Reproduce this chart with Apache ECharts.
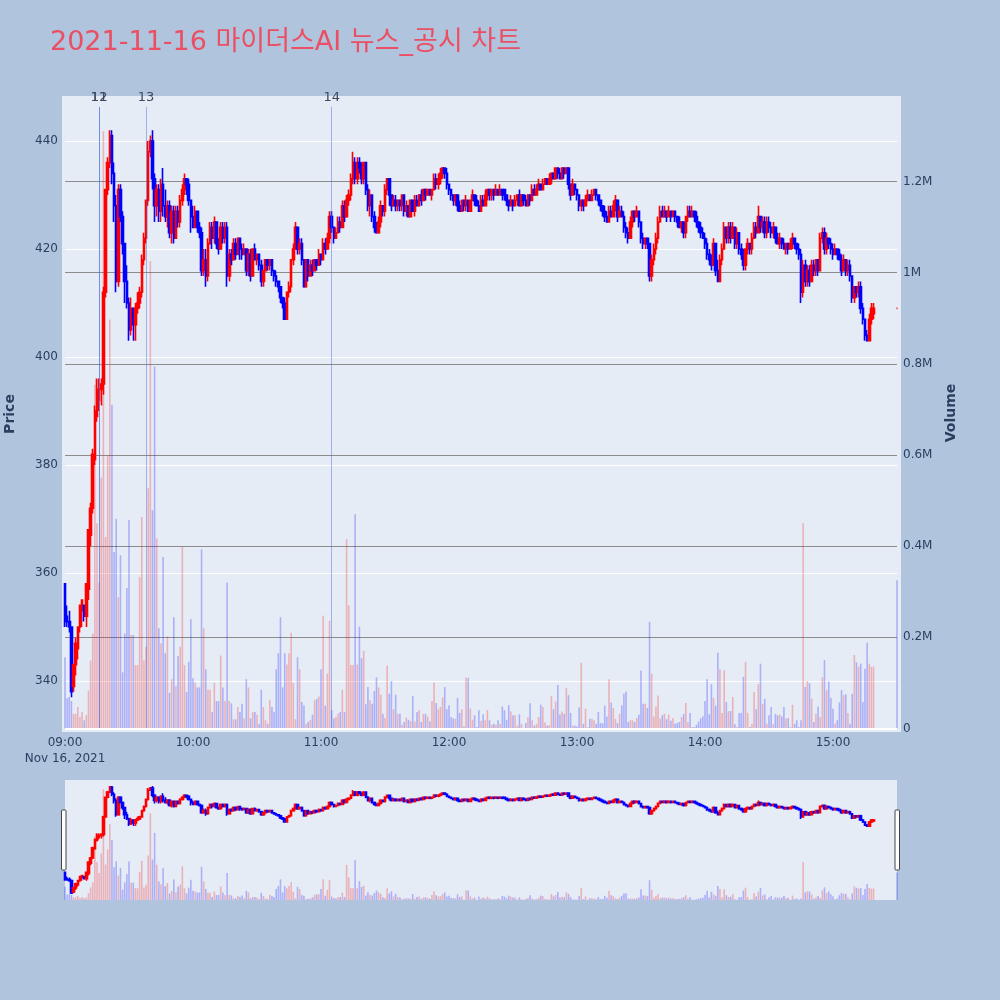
<!DOCTYPE html>
<html><head><meta charset="utf-8">
<script src="https://cdn.jsdelivr.net/npm/echarts@6/dist/echarts.min.js"></script>
<style>html,body{margin:0;padding:0;background:#b0c4de;}#c{width:1000px;height:1000px;}</style>
</head><body><div id="c"></div>
<script>
// [open, close, low, high] per minute from 09:00 (index 0) to 15:19 (index 379)
const ohlc = [
[358,351,350,358],[352,351,350,354],[351,350,349,353],[350,338,337,350],[339,343,338,343],[343,347,341,348],[346,350,344,350],[350,354,349,354],[353,355,350,355],[354,352,351,354],
[352,358,350,358],[357,368,355,368],[367,372,365,373],[372,382,371,383],[381,390,380,391],[389,394,388,396],[392,394,390,396],[394,395,391,396],[395,412,393,413],[412,431,411,431],
[431,436,430,437],[436,441,435,442],[441,434,432,442],[434,428,425,436],[428,414,412,430],[414,431,413,432],[431,426,425,432],[426,421,419,427],[421,414,410,421],[414,410,409,417],
[410,405,403,411],[405,409,404,411],[409,406,403,409],[406,409,403,410],[409,410,408,412],[410,412,409,413],[412,418,411,419],[418,422,417,423],[422,429,421,429],[429,438,428,440],
[438,440,437,441],[440,433,431,442],[433,428,425,434],[428,431,426,432],[431,427,425,432],[427,432,425,433],[432,428,426,435],[428,426,425,431],[426,428,424,429],[428,423,422,429],
[423,427,421,428],[427,422,421,428],[422,427,422,428],[427,425,424,428],[425,429,424,430],[429,431,428,432],[431,433,430,434],[433,432,430,433],[432,429,428,433],[429,426,423,429],
[426,424,424,428],[424,427,424,428],[427,424,423,427],[424,423,422,425],[423,416,415,424],[416,418,415,420],[418,415,413,420],[415,421,414,422],[421,424,421,425],[424,422,420,425],
[422,425,421,426],[425,421,420,425],[421,420,419,422],[420,424,420,425],[424,422,421,425],[422,424,421,425],[424,415,413,425],[415,419,414,420],[419,418,417,420],[418,421,418,422],
[421,419,418,422],[419,422,419,422],[422,420,418,422],[420,419,418,421],[419,420,419,421],[420,416,415,420],[416,419,415,420],[419,415,414,420],[415,420,415,420],[420,418,418,421],
[418,419,417,419],[419,417,416,419],[417,414,413,418],[414,416,413,416],[416,418,416,418],[418,417,416,418],[417,418,416,418],[418,416,415,418],[416,415,414,416],[415,414,413,416],
[414,413,412,414],[413,411,410,413],[411,410,409,411],[410,407,407,411],[407,412,407,412],[412,413,411,414],[413,418,412,418],[418,420,417,421],[420,424,420,425],[424,420,419,424],
[420,421,419,422],[421,418,417,422],[418,413,413,418],[413,418,413,418],[418,415,414,418],[415,417,415,418],[417,416,415,418],[416,418,416,418],[418,417,416,418],[417,419,417,420],
[419,418,417,419],[418,421,418,422],[421,420,419,422],[420,422,420,423],[422,426,421,427],[426,424,423,427],[424,422,421,424],[422,423,422,424],[423,425,423,426],[425,424,423,426],
[424,428,424,429],[428,426,425,429],[426,429,426,430],[429,430,428,431],[430,433,429,434],[433,436,432,438],[436,433,432,437],[433,436,432,437],[436,435,434,437],[435,433,432,436],
[433,436,432,436],[436,431,430,436],[431,428,427,432],[428,430,426,431],[430,426,425,430],[426,424,423,427],[424,423,423,425],[423,425,423,426],[425,428,424,429],[428,427,426,428],
[427,431,426,432],[431,433,430,433],[433,430,428,433],[430,428,427,430],[428,429,428,430],[429,428,427,430],[428,429,427,429],[429,428,427,429],[428,430,427,430],[430,427,426,430],
[427,428,426,429],[428,426,426,428],[426,429,426,429],[429,427,427,429],[427,429,426,430],[429,428,428,430],[428,430,428,430],[430,429,428,431],[429,431,429,431],[431,430,429,431],
[430,431,430,431],[431,430,430,431],[430,431,429,431],[431,433,431,434],[433,432,431,434],[432,433,431,434],[433,434,432,435],[434,435,433,435],[435,434,433,435],[434,432,431,435],
[432,431,430,432],[431,430,429,431],[430,429,428,430],[429,430,428,430],[430,428,427,430],[428,427,427,429],[427,429,427,429],[429,428,427,429],[428,429,427,430],[429,427,427,429],
[427,429,427,429],[429,430,429,431],[430,429,428,430],[429,428,428,430],[428,427,427,429],[427,429,427,430],[429,428,428,430],[428,430,428,431],[430,431,429,431],[431,430,429,431],
[430,431,429,431],[431,430,429,431],[430,431,430,432],[431,430,430,431],[430,431,430,432],[431,430,429,431],[431,430,429,431],[430,429,428,430],[429,428,427,429],[428,429,428,430],
[429,428,427,429],[428,429,428,430],[429,430,428,430],[430,428,428,431],[428,430,428,430],[430,429,428,430],[429,428,428,430],[428,430,428,430],[430,429,428,430],[429,431,429,432],
[431,430,430,432],[430,431,430,432],[431,432,431,433],[432,431,431,432],[431,432,431,433],[432,433,432,433],[433,432,432,433],[432,433,432,434],[433,434,432,434],[434,433,433,434],
[433,435,433,435],[435,434,433,435],[434,433,433,435],[433,435,433,435],[435,434,433,435],[434,435,434,435],[435,432,431,435],[432,430,429,432],[430,432,430,433],[432,431,430,432],
[431,430,429,431],[430,428,427,430],[428,429,427,429],[429,428,427,429],[428,429,428,430],[429,430,429,431],[430,429,429,430],[429,430,429,431],[430,431,430,431],[431,430,429,431],
[430,429,428,430],[429,428,427,429],[428,427,426,428],[427,426,425,428],[426,425,425,427],[425,427,425,428],[427,426,426,428],[426,428,426,429],[428,429,427,430],[429,426,425,429],
[426,427,426,428],[427,426,426,428],[426,424,423,427],[424,423,422,425],[423,422,421,424],[422,425,422,426],[425,427,424,427],[427,426,425,427],[426,427,426,428],[427,425,424,427],
[425,422,421,425],[422,421,420,423],[421,422,420,422],[422,421,420,422],[421,415,414,421],[415,418,414,419],[418,420,417,421],[420,422,419,423],[422,425,421,426],[425,427,425,428],
[427,426,426,428],[426,427,426,428],[427,426,425,427],[426,427,426,428],[427,426,425,427],[426,427,426,427],[427,426,425,427],[426,425,424,426],[425,424,424,426],[424,425,423,425],
[425,423,422,425],[423,426,422,426],[426,427,425,428],[427,426,426,428],[426,427,426,428],[427,426,425,427],[426,425,424,427],[425,424,423,425],[424,423,422,425],[423,422,422,424],
[422,421,420,423],[421,419,418,422],[419,418,417,420],[418,417,416,419],[417,421,417,422],[421,416,415,421],[416,414,414,418],[414,418,414,419],[418,420,417,421],[420,424,420,425],
[424,422,421,424],[422,424,421,425],[424,422,421,425],[422,424,422,425],[424,421,420,424],[421,423,420,424],[423,420,419,423],[420,419,418,421],[419,417,416,420],[417,420,416,420],
[420,421,419,422],[421,420,419,421],[420,422,419,423],[422,424,422,425],[424,423,422,425],[423,426,423,428],[426,424,423,426],[424,425,423,426],[425,423,422,426],[423,425,422,426],
[425,424,423,426],[424,423,422,425],[423,424,422,425],[424,422,421,424],[422,421,421,423],[421,422,420,423],[422,421,420,422],[421,420,420,422],[420,421,419,421],[421,420,419,421],
[420,421,420,422],[421,422,420,423],[422,421,420,422],[421,420,419,421],[420,419,418,421],[419,412,410,420],[412,417,411,418],[417,414,413,418],[414,416,413,417],[416,414,413,417],
[414,417,414,418],[417,416,415,418],[416,418,415,418],[418,416,415,418],[416,422,416,423],[422,423,421,424],[423,420,419,424],[420,422,419,423],[422,421,420,422],[421,420,419,422],
[420,419,418,421],[419,420,419,421],[420,419,418,420],[419,418,418,420],[418,416,415,419],[416,418,416,419],[418,416,415,418],[416,417,415,418],[417,415,414,418],[415,411,410,415],
[411,413,410,413],[413,412,411,413],[412,413,411,414],[413,409,408,414],[409,407,406,410],[407,404,403,407],[404,403,403,405],[403,407,403,408],[407,409,406,410],[408,409,407,410]
];
// volume (thousand shares) per minute, 09:00 .. 15:19
const volumesK = [
156,66,69,60,32,32,47,25,36,18, 29,83,149,208,754,450,320,550,1310,420,
600,897,710,387,460,288,380,123,208,308, 457,205,205,139,139,332,464,149,179,527,
1025,479,794,417,220,187,376,165,202,78, 108,244,93,159,179,398,139,80,146,240,
110,100,90,90,393,220,130,85,85,36, 100,60,60,160,90,60,320,60,55,20,
20,47,36,54,22,108,90,22,36,36, 30,10,85,47,18,10,62,47,36,130,
165,244,90,165,140,165,210,100,20,156, 130,58,50,10,14,18,30,62,65,70,
130,247,50,120,236,40,22,25,32,36, 85,36,415,270,139,139,470,140,
223,154,170,53,91,62,54,82,112,90, 74,32,23,138,76,104,42,74,32,32, 8,14,24,19,16,71,15,36,40,14, 32,
32,26,15,60,100,56,42,47,68,91, 42,50,25,22,21,67,34,42,4,111, 111,44,19,29,3,40,17,31,18,40,
18,8,10,8,18,10,48,40,19,51, 37,29,29,6,31,10,1,12,25,55, 18,6,10,25,52,47,13,6,7,
71,42,59,95,31,37,32,89,73,34, 6,6,4,46,144,10,43,3,21,21, 18,10,36,12,11,50,26,108,57,45, 21,12,32,
50,76,81,14,18,18,14,23,30,127, 54,54,45,234,120,26,48,72,22,29, 32,20,30,17,23,10,
12,14,25,32,56,14,34,3,3,8, 15,22,26,60,108,31,97,67,50,166, 130,34,127,58,38,38,69,9,3,34,
34,113,146,34,3,10,80,42,97,142, 54,65,10,29,47,9,32,29,30,26, 47,22,23,3,52,10,18,3,18,450,
91,104,99,65,14,32,48,25,112,150, 84,103,67,43,11,18,57,84,73,75, 34,10,76,161,145,135,142,58,131,188,
142,135,136
];
// closing auction 15:30
const auctionTime = '15:30';
const auctionOhlc = [409,409,409,409];
const auctionVolumeK = 325;
// news / disclosure markers
const newsEvents = [
  {time:'09:16', label:'11'},
  {time:'09:16', label:'12'},
  {time:'09:38', label:'13'},
  {time:'11:05', label:'14'}
];
const titleText = '2021-11-16 마이더스AI 뉴스_공시 차트';

// category axis: every minute 09:00 .. 15:30
const times = [];
for (let m = 0; m <= 390; m++) {
  const h = 9 + Math.floor(m / 60), mm = m % 60;
  times.push(String(h).padStart(2,'0') + ':' + String(mm).padStart(2,'0'));
}

const UP = '#ff0000', DOWN = '#0000ff';
const VUP = 'rgba(255,0,0,0.25)', VDOWN = 'rgba(0,0,255,0.25)';
const EMPTY4 = ['-','-','-','-'];

const candleData = times.map((t, i) => {
  if (i < ohlc.length) return ohlc[i];
  if (t === auctionTime) return {value: auctionOhlc, itemStyle:{color:UP, color0:UP, borderColor:UP, borderColor0:UP}};
  return EMPTY4;
});
const volData = times.map((t, i) => {
  if (i < volumesK.length) {
    const up = ohlc[i][1] > ohlc[i][0];
    return {value: volumesK[i], itemStyle:{color: up ? VUP : VDOWN}};
  }
  if (t === auctionTime) return {value: auctionVolumeK, itemStyle:{color: VDOWN}};
  return '-';
});

const FONT = '"DejaVu Sans", Verdana, sans-serif';
const TXT = '#2a3f5f';

const markLineData = newsEvents.map(e => [
  {name: e.label, coord: [e.time, 331.3]},
  {coord: [e.time, 446.3]}
]);

const candleStyle = {color:UP, color0:DOWN, borderColor:UP, borderColor0:DOWN, borderWidth:1.6};

const chart = echarts.init(document.getElementById('c'), null, {renderer:'canvas'});
chart.setOption({
  animation: false,
  backgroundColor: '#b0c4de',
  title: {
    text: titleText, left: 45, top: 24,
    textStyle: {fontSize: 27, fontWeight: 'normal', color: '#eb4f64',
      fontFamily: '"DejaVu Sans", "Noto Sans CJK KR", sans-serif'}
  },
  graphic: {elements: [
    {type:'rect', z:-10, silent:true, shape:{x:62, y:96, width:839, height:636}, style:{fill:'#e5ecf6'}},
    {type:'rect', z:-10, silent:true, shape:{x:65, y:780, width:832, height:120}, style:{fill:'#e5ecf6'}},
    {type:'rect', z:100, silent:true, shape:{x:61.5, y:810, width:4.5, height:60, r:1}, style:{fill:'#ffffff', stroke:'#444', lineWidth:1}},
    {type:'rect', z:100, silent:true, shape:{x:895, y:810, width:4.5, height:60, r:1}, style:{fill:'#ffffff', stroke:'#444', lineWidth:1}},
    {type:'text', x:10, y:414, rotation:Math.PI/2, silent:true,
      style:{text:'Price', font:'bold 14px "DejaVu Sans"', fill:TXT, align:'center', verticalAlign:'middle'}},
    {type:'text', x:951, y:413, rotation:Math.PI/2, silent:true,
      style:{text:'Volume', font:'bold 14px "DejaVu Sans"', fill:TXT, align:'center', verticalAlign:'middle'}}
  ]},
  grid: [
    {left:65, right:103, top:96, bottom:270},
    {left:65, right:103, top:780, bottom:100}
  ],
  xAxis: [
    {type:'category', gridIndex:0, data:times, boundaryGap:false,
      axisLine:{show:false}, axisTick:{show:false}, splitLine:{show:false},
      axisLabel:{interval:(i) => i % 60 === 0, color:TXT, fontSize:12, fontFamily:FONT, margin:5, lineHeight:16,
        formatter:(v) => v === '09:00' ? '09:00\nNov 16, 2021' : v}},
    {type:'category', gridIndex:1, data:times, boundaryGap:false, show:false}
  ],
  yAxis: [
    {type:'value', gridIndex:0, position:'left', min:330.93, max:448.33, splitNumber:6, minInterval:20, maxInterval:20,
      axisLine:{show:false}, axisTick:{show:false},
      axisLabel:{color:TXT, fontSize:12, fontFamily:FONT, margin:7, showMinLabel:false, showMaxLabel:false},
      splitLine:{show:true, showMinLine:false, showMaxLine:false, lineStyle:{color:'#ffffff', width:1}}},
    {type:'value', gridIndex:0, position:'right', min:-3.5, max:1387.5, splitNumber:7, minInterval:200, maxInterval:200,
      axisLine:{show:false}, axisTick:{show:false},
      axisLabel:{color:TXT, fontSize:12, fontFamily:FONT, margin:6, showMinLabel:false, showMaxLabel:false,
        formatter:(v) => v === 0 ? '0' : (Math.round(v) / 1000) + 'M'},
      splitLine:{show:true, showMinLine:false, showMaxLine:false, lineStyle:{color:'#8c8c8c', width:1}}},
    {type:'value', gridIndex:1, min:331.2, max:447.8, show:false, splitLine:{show:false}},
    {type:'value', gridIndex:1, min:0, max:1420, show:false, splitLine:{show:false}}
  ],
  series: [
    {type:'bar', name:'VolumeMain', xAxisIndex:0, yAxisIndex:1, data:volData, barWidth:1.6, z:2,
      markLine:{silent:true, symbol:['none','none'], label:{show:false},
        lineStyle:{color:'#ffffff', width:2, type:'solid'}, data:[{yAxis:0}]}},
    {type:'candlestick', name:'PriceMain', xAxisIndex:0, yAxisIndex:0, data:candleData, barWidth:2, clip:false, z:3,
      itemStyle:candleStyle,
      markLine:{silent:true, symbol:['none','none'],
        lineStyle:{color:'rgba(65,105,225,0.45)', width:1, type:'solid'},
        label:{show:true, position:'end', distance:3, formatter:(p) => p.name, color:'#3b4a5f', fontSize:13, fontFamily:FONT},
        data: markLineData}},
    {type:'bar', name:'VolumeMini', xAxisIndex:1, yAxisIndex:3, data:volData, barWidth:1.6, z:2},
    {type:'candlestick', name:'PriceMini', xAxisIndex:1, yAxisIndex:2, data:candleData, barWidth:2, clip:false, z:3,
      itemStyle:candleStyle}
  ]
});
</script>
</body></html>
